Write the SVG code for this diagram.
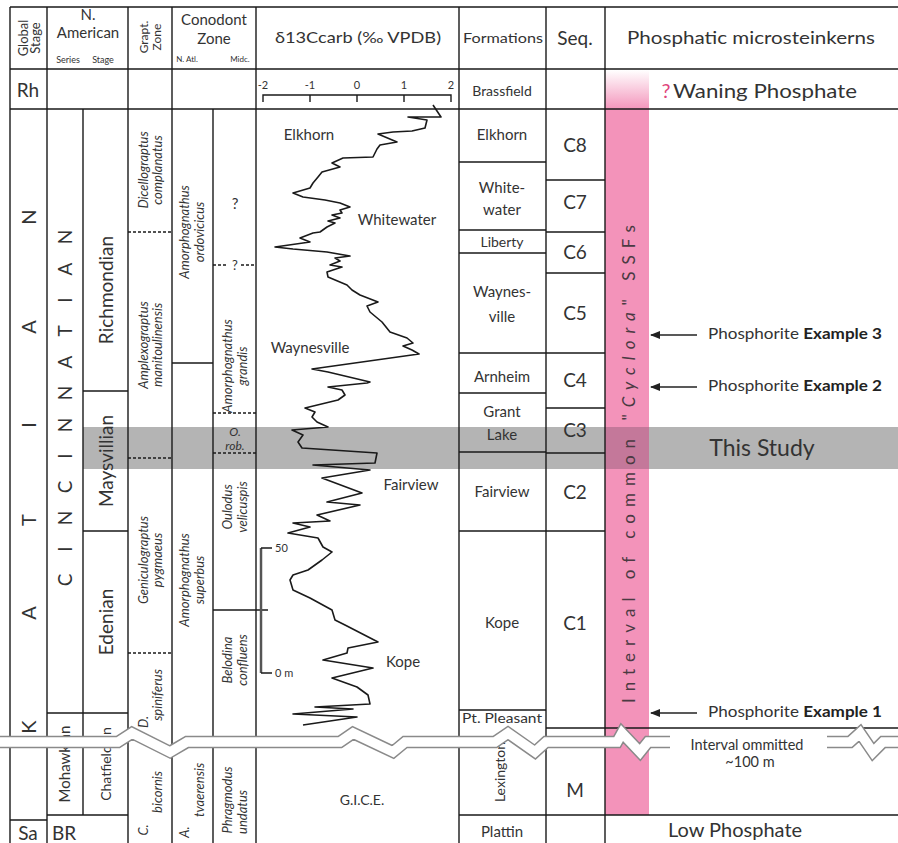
<svg xmlns="http://www.w3.org/2000/svg" width="898" height="843" viewBox="0 0 898 843">
<defs>
<style>
text{font-family:Lato,"Liberation Sans",sans-serif;fill:#333}
.ln{stroke:#1a1a1a;stroke-width:1.4;fill:none}
.ds{stroke:#1a1a1a;stroke-width:1.4;stroke-dasharray:3 2;fill:none}
.c{text-anchor:middle}
.r{dominant-baseline:central;text-anchor:middle}
.it{font-style:italic}
.f19{font-size:19px}
.f15{font-size:15px}
.f14{font-size:14px}
.f13{font-size:13px}
.f12{font-size:12px}
.z{font-size:13px;font-style:italic;dominant-baseline:central;text-anchor:middle}
.ex{font-size:16px}
</style>
<linearGradient id="pk" x1="0" y1="0" x2="0" y2="1">
<stop offset="0" stop-color="#F393BA" stop-opacity="0"/>
<stop offset="1" stop-color="#F393BA" stop-opacity="1"/>
</linearGradient>
<marker id="ah" viewBox="0 0 10 8" refX="9" refY="4" markerWidth="10" markerHeight="8" orient="auto" markerUnits="userSpaceOnUse"><path d="M0,0L10,4L0,8z" fill="#222"/></marker>
</defs>
<rect width="898" height="843" fill="#fff"/>

<g id="background">
<rect x="605" y="70" width="44" height="40" fill="url(#pk)"/>
<rect x="605" y="109" width="44" height="706" fill="#F393BA"/>
<rect x="83" y="427" width="815" height="42" fill="#b4b4b4"/>
<rect x="605" y="427" width="44" height="42" fill="#c4789a"/>
</g>

<g id="grid">
<path class="ln" d="M10,7H898M10,69H898M10,109H898"/>
<path class="ln" d="M10,7V843M47,7V843M128,7V843M172,7V843M213,109V843M256,7V843M459,7V843M546,7V843M605,7V843M83,109V815"/>
<path class="ln" d="M83,391H128M83,531H128M47,713H128M47,815H128M10,820H47"/>
<path class="ln" d="M172,363H213M213,610H268"/>
<path class="ln" d="M459,162H546M459,230H546M459,253H546M459,353H605M459,393H546M459,452H546M459,531H605M459,710H546M459,815H898"/>
<path class="ln" d="M546,180H605M546,232H605M546,273H605M546,408H605M546,453H605M546,728H898"/>
<path class="ds" d="M128,232H172M128,458H172M128,653H172M213,265H228M241,265H256M213,413H256M213,453H256"/>
</g>

<g id="header">
<text class="r f13" transform="translate(23,38) rotate(-90)">Global</text>
<text class="r f13" transform="translate(35,38) rotate(-90)">Stage</text>
<text class="c f15" x="88" y="20">N.</text>
<text class="c f15" x="88" y="38">American</text>
<text class="c" x="68" y="63" font-size="9">Series</text>
<text class="c" x="103" y="63" font-size="9">Stage</text>
<text class="r f12" transform="translate(143,37) rotate(-90)">Grapt.</text>
<text class="r f12" transform="translate(156,37) rotate(-90)">Zone</text>
<text class="c f15" x="214" y="25">Conodont</text>
<text class="c f15" x="214" y="44">Zone</text>
<text class="c" x="187" y="62" font-size="8">N. Atl.</text>
<text class="c" x="240" y="62" font-size="8">Midc.</text>
<text class="c f15" x="358" y="43" textLength="166" lengthAdjust="spacingAndGlyphs">δ13Ccarb (‰ VPDB)</text>
<text class="c f14" x="503" y="43" textLength="80" lengthAdjust="spacingAndGlyphs">Formations</text>
<text class="c" x="575" y="45" font-size="19">Seq.</text>
<text class="c" x="751" y="44" font-size="17" textLength="248" lengthAdjust="spacingAndGlyphs">Phosphatic microsteinkerns</text>
</g>

<g id="global-stage">
<text class="c f19" x="28" y="97">Rh</text>
<text class="c f19" x="28" y="840">Sa</text>
<text class="r" font-size="20" transform="translate(28,217) rotate(-90)">N</text>
<text class="r" font-size="20" transform="translate(28,327) rotate(-90)">A</text>
<text class="r" font-size="20" transform="translate(28,425) rotate(-90)">I</text>
<text class="r" font-size="20" transform="translate(28,520) rotate(-90)">T</text>
<text class="r" font-size="20" transform="translate(28,613) rotate(-90)">A</text>
<text class="r" font-size="20" transform="translate(28,727) rotate(-90)">K</text>
</g>

<g id="na-series">
<text class="r f19" transform="translate(64,237) rotate(-90)">N</text>
<text class="r f19" transform="translate(64,269) rotate(-90)">A</text>
<text class="r f19" transform="translate(64,300) rotate(-90)">I</text>
<text class="r f19" transform="translate(64,331) rotate(-90)">T</text>
<text class="r f19" transform="translate(64,362) rotate(-90)">A</text>
<text class="r f19" transform="translate(64,393) rotate(-90)">N</text>
<text class="r f19" transform="translate(64,425) rotate(-90)">N</text>
<text class="r f19" transform="translate(64,456) rotate(-90)">I</text>
<text class="r f19" transform="translate(64,487) rotate(-90)">C</text>
<text class="r f19" transform="translate(64,518) rotate(-90)">N</text>
<text class="r f19" transform="translate(64,549) rotate(-90)">I</text>
<text class="r f19" transform="translate(64,580) rotate(-90)">C</text>
<text class="r" font-size="15" transform="translate(64,764) rotate(-90)">Mohawkian</text>
<text class="c f19" x="64" y="840">BR</text>
</g>

<g id="na-stage">
<text class="r f19" transform="translate(105,290) rotate(-90)">Richmondian</text>
<text class="r f19" transform="translate(105,461) rotate(-90)">Maysvillian</text>
<text class="r f19" transform="translate(105,622) rotate(-90)">Edenian</text>
<text class="r" font-size="14" transform="translate(105,764) rotate(-90)">Chatfieldian</text>
</g>

<g id="grapt-zone">
<g transform="translate(150,170) rotate(-90)"><text class="z" y="-7">Dicellograptus</text><text class="z" y="7">complanatus</text></g>
<g transform="translate(150,345) rotate(-90)"><text class="z" y="-7">Amplexograptus</text><text class="z" y="7">manitoulinensis</text></g>
<g transform="translate(150,560) rotate(-90)"><text class="z" y="-7">Geniculograptus</text><text class="z" y="7">pygmaeus</text></g>
<g transform="translate(150,695) rotate(-90)"><text class="z" x="-27" y="-7">D.</text><text class="z" y="7">spiniferus</text></g>
<g transform="translate(150,800) rotate(-90)"><text class="z" x="-30" y="-7">C.</text><text class="z" x="8" y="7">bicornis</text></g>
</g>

<g id="conodont-zone">
<g transform="translate(192,232) rotate(-90)"><text class="z" y="-8">Amorphognathus</text><text class="z" y="7">ordovicicus</text></g>
<g transform="translate(192,580) rotate(-90)"><text class="z" y="-8">Amorphognathus</text><text class="z" y="7">superbus</text></g>
<g transform="translate(192,800) rotate(-90)"><text class="z" x="-32" y="-8">A.</text><text class="z" x="10" y="7">tvaerensis</text></g>
<text class="c" x="235" y="209" font-size="15">?</text>
<text class="c f13" x="235" y="270">?</text>
<g transform="translate(235,366) rotate(-90)"><text class="z" y="-8">Amorphognathus</text><text class="z" y="7">grandis</text></g>
<text class="c it f12" x="235" y="436">O.</text>
<text class="c it f12" x="235" y="450">rob.</text>
<g transform="translate(235,507) rotate(-90)"><text class="z" y="-8">Oulodus</text><text class="z" y="7">velicuspis</text></g>
<g transform="translate(235,660) rotate(-90)"><text class="z" y="-8">Belodina</text><text class="z" y="7">confluens</text></g>
<g transform="translate(235,800) rotate(-90)"><text class="z" y="-8">Phragmodus</text><text class="z" x="-12" y="7">undatus</text></g>
</g>

<g id="d13c">
<path class="ln" d="M263,102V95H451V102M310,95V102M357,95V102M404,95V102"/>
<text class="c" font-size="11" x="263" y="89">-2</text>
<text class="c" font-size="11" x="310" y="89">-1</text>
<text class="c" font-size="11" x="357" y="89">0</text>
<text class="c" font-size="11" x="404" y="89">1</text>
<text class="c" font-size="11" x="451" y="89">2</text>
<polyline fill="none" stroke="#1a1a1a" stroke-width="1.6" stroke-linejoin="round" points="433,105 441,117 408,117 427,120 425,128 412,131 393,132 378,134 397,142 380,145 377,149 375,153 373,157 343,158 332,163 340,167 322,172 318,177 313,183 310,188 293,193 303,197 325,200 340,203 350,207 340,210 342,213 332,215 340,218 328,221 335,223 327,227 320,232 313,233 300,238 310,242 275,247 293,249 327,252 350,256 335,258 340,261 330,265 342,267 327,272 328,277 347,285 352,290 360,295 378,302 367,306 370,312 382,322 390,332 407,338 413,343 403,346 412,350 419,354 312,369 328,372 370,382 367,383 328,387 342,390 345,395 338,400 305,408 315,412 312,417 317,422 328,427 292,430 303,435 298,442 302,448 377,453 375,463 313,465 370,470 322,478 362,493 327,502 360,505 317,515 330,521 293,523 310,527 288,533 318,538 323,547 332,552 322,560 308,570 293,575 290,580 293,590 310,598 332,610 335,620 345,625 378,642 348,648 347,653 323,660 373,668 332,678 357,687 368,695 370,704 315,707 353,709 293,714 357,717 303,725"/>
<path d="M261,548V673" stroke="#555" stroke-width="2.5" fill="none"/>
<path class="ln" d="M261,548H272M261,673H272"/>
<text font-size="11" x="275" y="552">50</text>
<text font-size="11" x="275" y="677">0 m</text>
<text class="c f15" x="309" y="140">Elkhorn</text>
<text class="c f15" x="397" y="225">Whitewater</text>
<text class="c f15" x="310" y="353">Waynesville</text>
<text class="c f15" x="411" y="490">Fairview</text>
<text class="c f15" x="403" y="667">Kope</text>
<text class="c f14" x="362" y="805">G.I.C.E.</text>
</g>

<g id="formations">
<text class="c f14" x="502" y="96">Brassfield</text>
<text class="c f15" x="502" y="140">Elkhorn</text>
<text class="c f15" x="502" y="193">White-</text>
<text class="c f15" x="502" y="215">water</text>
<text class="c f14" x="502" y="247">Liberty</text>
<text class="c f15" x="502" y="297">Waynes-</text>
<text class="c f15" x="502" y="322">ville</text>
<text class="c f15" x="502" y="382">Arnheim</text>
<text class="c f15" x="502" y="417">Grant</text>
<text class="c f15" x="502" y="440">Lake</text>
<text class="c f15" x="502" y="497">Fairview</text>
<text class="c f15" x="502" y="628">Kope</text>
<text class="c" font-size="12.5" x="502" y="723" textLength="80" lengthAdjust="spacingAndGlyphs">Pt. Pleasant</text>
<text class="r f14" transform="translate(499,772) rotate(-90)">Lexington</text>
<text class="c f15" x="502" y="837">Plattin</text>
</g>

<g id="sequences">
<text class="c f19" x="575" y="152">C8</text>
<text class="c f19" x="575" y="209">C7</text>
<text class="c f19" x="575" y="259">C6</text>
<text class="c f19" x="575" y="320">C5</text>
<text class="c f19" x="575" y="387">C4</text>
<text class="c f19" x="575" y="437">C3</text>
<text class="c f19" x="575" y="499">C2</text>
<text class="c f19" x="575" y="630">C1</text>
<text class="c f19" x="575" y="797">M</text>
</g>

<g id="phosphatic">
<text x="666" y="98" font-size="20" class="c" style="fill:#E0457B">?</text>
<text x="673" y="98" font-size="20" textLength="184" lengthAdjust="spacingAndGlyphs">Waning Phosphate</text>
<text class="r" font-size="17" transform="translate(628,464) rotate(-90)" textLength="478" lengthAdjust="spacing" style="fill:#4a3a42">Interval of common "<tspan font-style="italic">Cyclora</tspan>" SSFs</text>
<text class="c" x="762" y="456" font-size="23">This Study</text>
<text class="c" x="747" y="750" font-size="14.5">Interval ommitted</text>
<text class="c" x="750" y="767" font-size="14.5">~100 m</text>
<text class="c" x="735" y="837" font-size="20">Low Phosphate</text>
</g>

<g id="connectors">
<line x1="697" y1="335" x2="651" y2="335" stroke="#222" stroke-width="1.3" marker-end="url(#ah)"/>
<line x1="697" y1="387" x2="651" y2="387" stroke="#222" stroke-width="1.3" marker-end="url(#ah)"/>
<line x1="697" y1="713" x2="651" y2="713" stroke="#222" stroke-width="1.3" marker-end="url(#ah)"/>
<text class="ex" x="708" y="339" textLength="174" lengthAdjust="spacingAndGlyphs">Phosphorite <tspan font-weight="bold" style="fill:#222">Example 3</tspan></text>
<text class="ex" x="708" y="391" textLength="174" lengthAdjust="spacingAndGlyphs">Phosphorite <tspan font-weight="bold" style="fill:#222">Example 2</tspan></text>
<text class="ex" x="708" y="717" textLength="174" lengthAdjust="spacingAndGlyphs">Phosphorite <tspan font-weight="bold" style="fill:#222">Example 1</tspan></text>
</g>

<g id="break">
<path d="M0,742H118L132,733L170,752L187,742H340L353,733L393,752L405,742H495L508,733L535,752L546,742H617L622,733L640,752L648,742H670M827,742H850L860,733L873,752L883,742H898" fill="none" stroke="#8a8a8a" stroke-width="12.5"/>
<path d="M0,742H118L132,733L170,752L187,742H340L353,733L393,752L405,742H495L508,733L535,752L546,742H617L622,733L640,752L648,742H670M827,742H850L860,733L873,752L883,742H898" fill="none" stroke="#fff" stroke-width="9.5"/>
</g>
</svg>
